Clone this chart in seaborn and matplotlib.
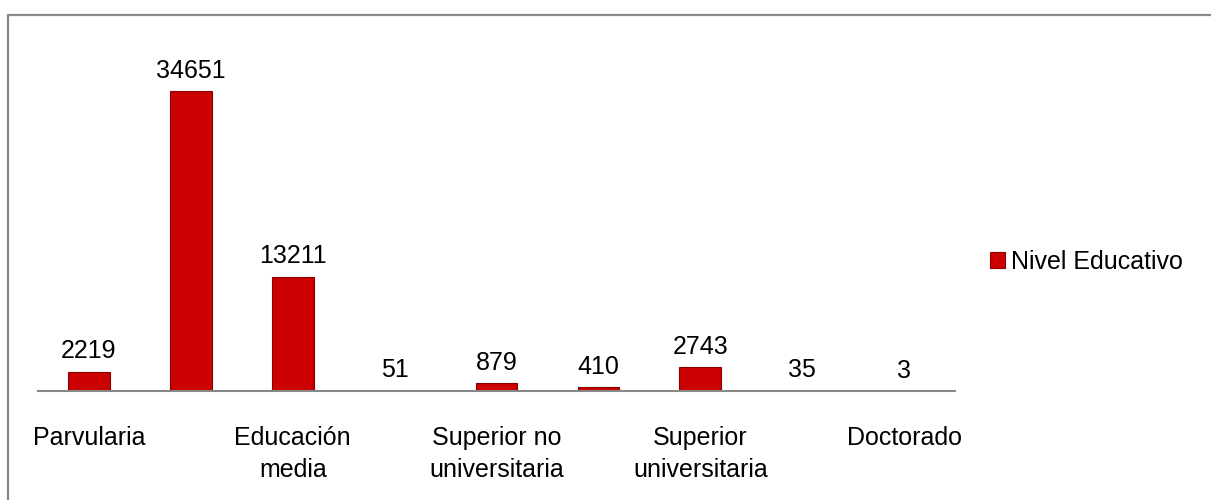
import seaborn as sns
import pandas as pd
import matplotlib.pyplot as plt
from matplotlib.lines import Line2D

niveles = ['Parvularia', 'Básica', 'Educación media', 'Media técnica',
           'Superior no universitaria', 'Técnica superior',
           'Superior universitaria', 'Magíster', 'Doctorado']
cantidad = [2219, 34651, 13211, 51, 879, 410, 2743, 35, 3]
# only every other category name is shown on the axis
etiquetas = ['Parvularia', '', 'Educación\nmedia', '', 'Superior no\nuniversitaria',
             '', 'Superior\nuniversitaria', '', 'Doctorado']
serie = 'Nivel Educativo'

df = pd.DataFrame({'nivel': niveles, 'n': cantidad})

sns.set_style('white')
plt.rcParams['font.family'] = ['Liberation Sans', 'DejaVu Sans']
plt.rcParams['text.color'] = 'black'
plt.rcParams['xtick.color'] = 'black'

fig = plt.figure(figsize=(12.11, 5.0), dpi=100)
ax = fig.add_axes([38 / 1211, 1 - 391 / 500, (955 - 38) / 1211, (391 - 45) / 500])

sns.barplot(data=df, x='nivel', y='n', color='#cc0000', width=0.41,
            edgecolor='#8a0000', linewidth=0.8, saturation=1, ax=ax)

ax.bar_label(ax.containers[0], labels=[str(v) for v in cantidad],
             padding=6, fontsize=18, color='black')

ax.set_ylim(0, 40000)
ax.set_xlim(-0.5, len(niveles) - 0.5)
ax.set_yticks([])
ax.set_xticks(range(len(niveles)))
ax.set_xticklabels(etiquetas, fontsize=18, linespacing=1.45, color='black')
ax.tick_params(axis='x', length=0, pad=25)
ax.set_xlabel('')
ax.set_ylabel('')
for s in ['top', 'left', 'right']:
    ax.spines[s].set_visible(False)
ax.spines['bottom'].set_color('#888888')
ax.spines['bottom'].set_linewidth(1.5)

fig.legend([ax.containers[0].patches[0]], [serie], loc='center left',
           bbox_to_anchor=(990 / 1211, 1 - 262 / 500), frameon=False,
           fontsize=18, handlelength=0.6, handleheight=0.6,
           handletextpad=0.25, borderpad=0, borderaxespad=0)

# grey chart frame (only top and left edges fall inside the image)
fig.add_artist(Line2D([8 / 1211, 1], [1 - 15 / 500, 1 - 15 / 500],
                      color='#888888', lw=1.6, transform=fig.transFigure))
fig.add_artist(Line2D([8 / 1211, 8 / 1211], [0, 1 - 15 / 500],
                      color='#888888', lw=1.6, transform=fig.transFigure))

fig.savefig('out.png', dpi=100)
